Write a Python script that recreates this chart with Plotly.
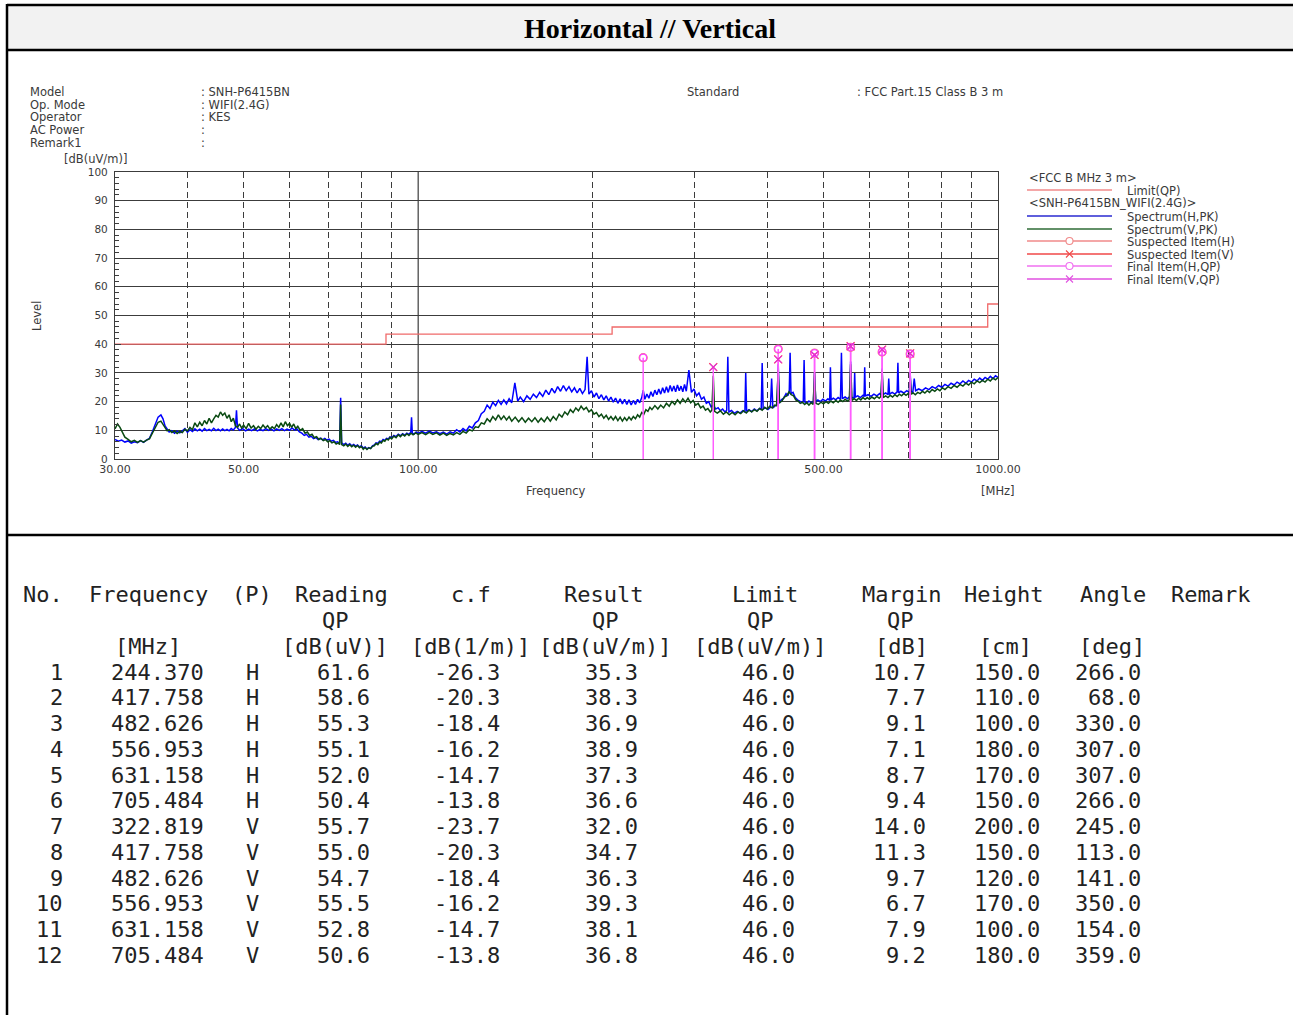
import plotly.graph_objects as go

W, H = 1293, 1015

# ---------------- data ----------------
limit_freq = [30, 88, 216, 960, 1000]
limit_level = [40, 43.5, 46, 54, 54]

# horizontal-polarisation peak spectrum (MHz, dBuV/m)
h_spectrum = [
    (30.0, 6.8), (30.4, 6.2), (30.8, 6.6), (31.2, 5.9), (31.6, 6.3), (32.0, 5.5), (32.4, 6.0), (32.8, 5.7),
    (33.2, 6.4), (33.6, 5.8), (34.0, 6.6), (34.4, 7.2), (34.8, 9.5), (35.2, 12.0), (35.6, 14.6), (36.0, 15.4),
    (36.3, 14.0), (36.6, 11.5), (36.9, 10.2), (37.2, 9.4), (37.6, 9.9), (38.0, 9.0), (38.4, 9.7), (38.8, 9.1),
    (39.2, 9.8), (39.6, 10.6), (40.0, 9.3), (40.4, 10.2), (40.8, 9.6), (41.2, 10.5), (41.6, 9.8), (42.0, 10.4),
    (42.4, 9.7), (42.8, 10.6), (43.2, 9.9), (43.6, 10.3), (44.0, 9.8), (44.4, 10.7), (44.8, 9.9), (45.2, 10.4),
    (45.6, 9.8), (46.0, 10.5), (46.4, 9.9), (46.8, 10.3), (47.2, 9.8), (47.6, 10.6), (48.0, 10.1), (48.4, 11.0),
    (48.6, 17.0), (48.8, 10.8), (49.2, 10.0), (49.8, 10.6), (50.4, 9.8), (51.0, 10.4), (51.6, 9.9), (52.2, 10.5),
    (52.8, 9.8), (53.4, 10.3), (54.0, 9.9), (54.6, 10.6), (55.2, 10.0), (55.8, 10.4), (56.4, 9.8), (57.0, 10.5),
    (57.6, 10.0), (58.2, 10.6), (58.8, 9.9), (59.4, 10.4), (60.0, 10.0), (60.6, 10.8), (61.2, 10.1), (61.8, 10.5),
    (62.4, 9.4), (63.0, 9.0), (63.6, 8.2), (64.2, 8.6), (64.8, 7.6), (65.4, 7.9), (66.0, 7.1), (66.6, 7.5),
    (67.2, 6.8), (67.8, 7.3), (68.4, 6.7), (69.0, 7.2), (69.6, 6.6), (70.2, 6.9), (70.8, 6.2), (71.4, 6.5),
    (72.0, 5.8), (72.6, 6.0), (73.2, 5.4), (73.5, 21.3), (73.8, 5.6), (74.4, 5.0), (75.0, 5.5), (75.6, 4.8),
    (76.2, 5.3), (76.8, 4.6), (77.4, 5.1), (78.0, 4.5), (78.6, 4.9), (79.2, 4.2), (79.8, 4.6), (80.4, 3.8),
    (81.0, 4.2), (81.6, 3.5), (82.2, 4.0), (82.8, 3.7), (83.4, 4.6), (84.0, 4.9), (84.6, 5.6), (85.2, 5.4),
    (85.8, 6.2), (86.4, 6.0), (87.0, 6.8), (87.6, 6.5), (88.2, 7.2), (88.8, 7.0), (89.4, 7.7), (90.0, 7.4),
    (90.8, 8.2), (91.6, 7.8), (92.4, 8.6), (93.2, 8.1), (94.0, 8.8), (94.8, 8.3), (95.6, 9.0), (96.4, 8.6),
    (97.1, 9.3), (97.4, 14.5), (97.7, 9.0), (98.4, 8.7), (99.2, 9.4), (100, 8.9), (101.5, 9.6), (103, 9.0),
    (104.5, 9.7), (106, 9.1), (107.5, 9.5), (109, 8.8), (110.5, 9.4), (112, 8.7), (113.5, 9.5), (115, 9.0),
    (116.5, 10.2), (118, 9.4), (119.5, 10.6), (121, 9.8), (122.5, 11.4), (124, 10.8), (125.5, 12.6), (127, 13.4),
    (128.5, 15.8), (130, 16.6), (131.5, 18.8), (133, 17.6), (134.5, 19.8), (136, 18.6), (137.5, 20.4), (139, 19.0),
    (140.5, 20.6), (142, 19.2), (143.5, 21.0), (145, 19.6), (146.8, 26.5), (148.5, 20.2), (150, 21.6), (152, 20.0),
    (154, 22.0), (156, 20.8), (158, 22.6), (160, 21.4), (162, 23.2), (164, 21.8), (166, 24.0), (168, 22.4),
    (170, 24.6), (172, 23.0), (174, 25.2), (176, 23.6), (178, 25.6), (180, 23.8), (182, 25.2), (184, 23.4),
    (186, 24.8), (188, 23.0), (190, 24.6), (192, 22.8), (194, 24.2), (195.6, 35.6), (197, 22.6), (199, 23.8),
    (201, 21.6), (203, 23.0), (205, 21.0), (207, 22.4), (209, 20.6), (211, 22.0), (213, 20.2), (215, 21.6),
    (217, 19.8), (219, 21.2), (221, 19.4), (223, 21.0), (225, 19.2), (227, 20.8), (229, 19.0), (231, 20.6),
    (233, 18.8), (235, 20.4), (237, 19.0), (239, 20.8), (241, 19.6), (243, 21.4), (244.4, 24.0), (246, 20.8),
    (248, 22.6), (250, 21.2), (252, 23.4), (254, 21.8), (256, 24.0), (258, 22.4), (260, 24.4), (262, 22.6),
    (264, 24.8), (266, 23.0), (268, 25.2), (270, 23.2), (272, 25.6), (274, 23.6), (276, 25.4), (278, 23.4),
    (280, 25.8), (282, 23.8), (284, 25.4), (286, 23.4), (288, 26.0), (290, 23.6), (293, 31.0), (296, 23.2),
    (299, 24.4), (302, 22.0), (305, 23.0), (308, 20.8), (311, 21.6), (314, 19.4), (317, 20.0), (320, 18.2),
    (323, 18.8), (326, 17.4), (329, 17.9), (332, 16.8), (335, 17.4), (338, 16.4), (340.5, 17.0), (342, 35.6),
    (343.5, 16.4), (347, 16.9), (351, 15.9), (355, 16.6), (359, 16.0), (363, 16.8), (366, 16.3), (367.2, 30.0),
    (368.5, 16.6), (372, 17.2), (376, 16.5), (380, 17.4), (384, 16.8), (388, 17.6), (390.5, 17.2), (392, 33.4),
    (393.5, 17.4), (397, 17.8), (401, 17.2), (405, 18.0), (407, 28.0), (409, 17.8), (413, 18.6), (416, 18.8),
    (417.8, 33.0), (419.5, 19.4), (423, 20.6), (427, 21.2), (431, 22.8), (434, 22.0), (436.5, 23.4), (438, 37.0),
    (439.5, 22.8), (443, 23.2), (447, 21.4), (451, 20.6), (455, 20.2), (459, 19.6), (461.5, 20.2), (463, 34.5),
    (464.5, 19.8), (468, 19.4), (472, 20.2), (476, 19.6), (480.5, 20.0), (482.6, 30.0), (485, 19.8), (489, 20.6),
    (494, 20.0), (499, 20.8), (504, 20.2), (509, 21.0), (512.5, 20.4), (514, 32.0), (515.5, 20.6), (520, 21.2),
    (525, 20.6), (530, 21.4), (535, 20.8), (537, 37.0), (539, 21.0), (545, 21.6), (550, 21.0), (555, 21.8),
    (557, 34.0), (559, 21.2), (562, 21.4), (564.5, 21.2), (566, 30.0), (567.5, 21.6), (573, 22.0), (579, 21.4),
    (585, 22.2), (587.5, 21.8), (589, 32.0), (590.5, 22.0), (597, 22.4), (604, 21.8), (611, 22.6), (618, 22.0),
    (625, 22.8), (629, 22.2), (631.2, 31.5), (633, 22.4), (640, 23.0), (646, 22.4), (648, 28.0), (650, 22.6),
    (657, 23.2), (664, 22.6), (670, 23.4), (672, 33.5), (674, 23.0), (680, 23.6), (688, 23.0), (696, 23.8),
    (703, 23.2), (705.5, 30.0), (708, 23.6), (713, 23.2), (717, 28.0), (721, 23.8), (730, 24.4), (740, 23.8),
    (750, 24.8), (760, 24.2), (770, 25.2), (780, 24.6), (790, 25.6), (800, 25.0), (810, 26.0), (820, 25.4),
    (830, 26.4), (840, 25.8), (850, 26.8), (860, 26.2), (870, 27.2), (880, 26.4), (890, 27.4), (900, 26.8),
    (910, 27.8), (920, 27.2), (930, 28.2), (940, 27.4), (950, 28.4), (960, 27.8), (970, 28.8), (980, 28.0),
    (990, 29.0), (1000, 28.4),
]

# vertical-polarisation peak spectrum (MHz, dBuV/m)
v_spectrum = [
    (30.0, 10.5), (30.3, 12.2), (30.6, 11.0), (30.9, 9.2), (31.2, 7.6), (31.6, 6.8), (32.0, 6.0), (32.4, 6.5),
    (32.8, 5.8), (33.2, 6.4), (33.6, 5.9), (34.0, 6.6), (34.4, 7.0), (34.8, 9.0), (35.2, 11.0), (35.6, 12.8),
    (36.0, 13.2), (36.3, 12.0), (36.6, 10.8), (36.9, 9.8), (37.2, 10.2), (37.6, 9.2), (38.0, 9.8), (38.4, 8.9),
    (38.8, 9.6), (39.2, 9.2), (39.6, 10.4), (40.0, 9.8), (40.4, 11.0), (40.8, 10.2), (41.2, 12.6), (41.6, 11.2),
    (42.0, 12.8), (42.4, 11.6), (42.8, 13.4), (43.2, 12.2), (43.6, 14.2), (44.0, 12.6), (44.4, 14.0), (44.8, 15.2),
    (45.2, 14.6), (45.6, 16.4), (46.0, 15.2), (46.4, 16.0), (46.8, 14.2), (47.2, 15.4), (47.6, 13.0), (48.0, 14.2),
    (48.4, 11.6), (48.8, 11.0), (49.2, 12.2), (49.6, 10.8), (50.0, 11.8), (50.5, 10.6), (51.0, 12.4), (51.5, 10.8),
    (52.0, 11.6), (52.5, 10.4), (53.0, 11.4), (53.5, 10.6), (54.0, 11.8), (54.5, 10.8), (55.0, 11.6), (55.5, 10.4),
    (56.0, 11.2), (56.5, 10.6), (57.0, 12.0), (57.5, 11.0), (58.0, 12.6), (58.5, 11.2), (59.0, 13.0), (59.5, 11.6),
    (60.0, 12.4), (60.5, 11.0), (61.0, 12.2), (61.5, 10.6), (62.0, 11.4), (62.6, 10.0), (63.2, 10.6), (63.8, 9.0),
    (64.4, 9.4), (65.0, 8.2), (65.6, 8.6), (66.2, 7.4), (66.8, 7.8), (67.4, 6.8), (68.0, 7.2), (68.6, 6.4),
    (69.2, 6.8), (69.8, 6.0), (70.4, 6.4), (71.0, 5.6), (71.6, 6.0), (72.2, 5.2), (72.8, 5.6), (73.2, 5.0),
    (73.5, 19.0), (73.8, 5.0), (74.4, 4.6), (75.0, 5.2), (75.6, 4.4), (76.2, 5.0), (76.8, 4.3), (77.4, 4.8),
    (78.0, 4.1), (78.6, 4.7), (79.2, 3.9), (79.8, 4.4), (80.4, 3.4), (81.0, 4.0), (81.6, 3.3), (82.2, 3.9),
    (82.8, 3.6), (83.4, 4.4), (84.0, 4.6), (84.6, 5.4), (85.2, 5.0), (85.8, 5.9), (86.4, 5.6), (87.0, 6.5),
    (87.6, 6.2), (88.2, 7.0), (88.8, 6.6), (89.4, 7.5), (90.0, 7.0), (90.8, 8.0), (91.6, 7.4), (92.4, 8.4),
    (93.2, 7.8), (94.0, 8.6), (94.8, 8.0), (95.6, 8.8), (96.4, 8.2), (97.2, 9.0), (98.0, 8.4), (99.0, 9.1),
    (100, 8.6), (101.5, 9.2), (103, 8.5), (104.5, 9.3), (106, 8.6), (107.5, 9.1), (109, 8.3), (110.5, 9.0),
    (112, 8.2), (113.5, 8.9), (115, 8.4), (116.5, 9.2), (118, 8.6), (119.5, 9.6), (121, 9.0), (122.5, 10.2),
    (124, 9.8), (125.5, 11.2), (127, 11.0), (128.5, 12.6), (130, 12.2), (131.5, 14.0), (133, 13.0), (134.5, 14.8),
    (136, 13.6), (137.5, 15.4), (139, 13.8), (140.5, 15.0), (142, 13.6), (143.5, 14.8), (145, 13.2), (147, 14.6),
    (149, 13.0), (151, 14.4), (153, 12.8), (155, 14.2), (157, 13.0), (159, 14.4), (161, 12.8), (163, 14.2),
    (165, 13.0), (167, 14.6), (169, 13.2), (171, 14.8), (173, 13.6), (175, 15.6), (177, 14.6), (179, 16.4),
    (181, 15.4), (183, 17.2), (185, 16.2), (187, 17.8), (189, 16.8), (191, 18.4), (193, 17.2), (195, 18.0),
    (197, 16.4), (199, 17.2), (201, 15.6), (203, 16.2), (205, 14.8), (207, 15.6), (209, 14.2), (211, 15.2),
    (213, 13.8), (215, 14.8), (217, 13.6), (219, 14.8), (221, 13.4), (223, 14.6), (225, 13.2), (227, 14.4),
    (229, 13.4), (231, 14.6), (233, 13.6), (235, 14.8), (237, 14.0), (239, 15.4), (241, 14.6), (243, 16.2),
    (245, 15.6), (247, 17.2), (249, 16.6), (251, 18.0), (253, 17.2), (256, 18.6), (259, 17.4), (262, 18.8),
    (265, 17.8), (268, 19.4), (271, 18.4), (274, 20.0), (277, 19.0), (280, 20.6), (283, 19.4), (286, 21.0),
    (289, 19.8), (292, 21.2), (295, 19.6), (298, 20.4), (301, 18.8), (304, 19.4), (307, 17.8), (310, 18.4),
    (313, 17.0), (316, 17.6), (319, 16.4), (321, 17.0), (322.8, 29.0), (324.5, 16.6), (328, 16.0), (332, 16.8),
    (336, 15.6), (340, 16.4), (344, 15.4), (348, 16.2), (352, 15.4), (356, 16.4), (360, 15.8), (364, 16.8),
    (368, 16.0), (372, 17.0), (376, 16.4), (380, 17.2), (384, 16.6), (388, 17.6), (392, 17.0), (396, 18.0),
    (400, 17.4), (404, 18.4), (408, 17.8), (412, 18.8), (415, 18.6), (417.8, 31.0), (420, 19.6), (424, 20.2),
    (428, 21.6), (432, 22.0), (436, 23.4), (440, 22.4), (444, 22.0), (448, 20.6), (452, 20.2), (456, 19.4),
    (460, 19.8), (464, 19.0), (468, 19.6), (472, 18.8), (476, 19.6), (480, 19.0), (482.6, 30.0), (485, 19.4),
    (490, 19.0), (495, 19.8), (500, 19.2), (505, 20.0), (510, 19.4), (515, 20.2), (520, 19.6), (525, 20.4),
    (530, 19.8), (535, 20.6), (540, 20.0), (545, 20.8), (550, 20.2), (554, 20.6), (557, 33.0), (560, 20.4),
    (565, 21.0), (570, 20.4), (575, 21.2), (580, 20.6), (585, 21.4), (590, 20.8), (595, 21.4), (600, 20.8),
    (606, 21.6), (612, 21.0), (618, 21.8), (624, 21.2), (628, 21.8), (631.2, 31.0), (634, 21.4), (640, 22.0),
    (646, 21.4), (652, 22.2), (658, 21.6), (664, 22.4), (670, 21.8), (676, 22.6), (682, 22.0), (688, 22.8),
    (694, 22.2), (700, 22.8), (703, 22.4), (705.5, 29.0), (708, 22.6), (714, 23.0), (720, 22.4), (727, 23.2),
    (734, 22.8), (741, 23.6), (748, 23.0), (755, 23.8), (762, 23.2), (770, 24.2), (778, 23.6), (786, 24.4),
    (794, 23.8), (802, 24.8), (810, 24.2), (820, 25.2), (830, 24.6), (840, 25.6), (850, 25.0), (860, 26.0),
    (870, 25.4), (880, 26.4), (890, 25.8), (900, 26.8), (910, 26.2), (920, 27.2), (930, 26.6), (940, 27.4),
    (950, 26.8), (960, 27.8), (970, 27.2), (980, 28.2), (990, 27.6), (1000, 28.4),
]
h_freq = [p[0] for p in h_spectrum]
h_level = [p[1] for p in h_spectrum]
v_freq = [p[0] for p in v_spectrum]
v_level = [p[1] for p in v_spectrum]

final_h_freq = [244.370, 417.758, 482.626, 556.953, 631.158, 705.484]
final_h_level = [35.3, 38.3, 36.9, 38.9, 37.3, 36.6]
final_v_freq = [322.819, 417.758, 482.626, 556.953, 631.158, 705.484]
final_v_level = [32.0, 34.7, 36.3, 39.3, 38.1, 36.8]

x_tick_vals = [30, 50, 100, 500, 1000]
x_tick_text = ["30.00", "50.00", "100.00", "500.00", "1000.00"]
x_dashed_grid = [40, 50, 60, 70, 80, 90, 200, 300, 400, 500, 600, 700, 800, 900]
x_solid_grid = [100]

# table
t_no = [1, 2, 3, 4, 5, 6, 7, 8, 9, 10, 11, 12]
t_freq = ["244.370", "417.758", "482.626", "556.953", "631.158", "705.484",
          "322.819", "417.758", "482.626", "556.953", "631.158", "705.484"]
t_pol = ["H", "H", "H", "H", "H", "H", "V", "V", "V", "V", "V", "V"]
t_reading = ["61.6", "58.6", "55.3", "55.1", "52.0", "50.4", "55.7", "55.0", "54.7", "55.5", "52.8", "50.6"]
t_cf = ["-26.3", "-20.3", "-18.4", "-16.2", "-14.7", "-13.8", "-23.7", "-20.3", "-18.4", "-16.2", "-14.7", "-13.8"]
t_result = ["35.3", "38.3", "36.9", "38.9", "37.3", "36.6", "32.0", "34.7", "36.3", "39.3", "38.1", "36.8"]
t_limit = ["46.0"] * 12
t_margin = ["10.7", "7.7", "9.1", "7.1", "8.7", "9.4", "14.0", "11.3", "9.7", "6.7", "7.9", "9.2"]
t_height = ["150.0", "110.0", "100.0", "180.0", "170.0", "150.0", "200.0", "150.0", "120.0", "170.0", "100.0", "180.0"]
t_angle = ["266.0", "68.0", "330.0", "307.0", "307.0", "266.0", "245.0", "113.0", "141.0", "350.0", "154.0", "359.0"]


# ---------------- helpers ----------------
def px(x):
    return x / W


def py(y):
    return 1 - y / H


CH_FONT = "DejaVu Sans, Verdana, sans-serif"
TB_FONT = "DejaVu Sans Mono, Liberation Mono, monospace"
GRID = "#3c3c3c"
TXT = "#3a3a3a"

fig = go.Figure()

# spectra
fig.add_trace(go.Scatter(x=h_freq, y=h_level, mode="lines", line=dict(color="#0000ff", width=1.5),
                         name="Spectrum(H,PK)"))
fig.add_trace(go.Scatter(x=v_freq, y=v_level, mode="lines", line=dict(color="#0a4a12", width=1.5),
                         name="Spectrum(V,PK)"))
# limit
fig.add_trace(go.Scatter(x=limit_freq, y=limit_level, mode="lines",
                         line=dict(color="#f06a6a", width=1.3, shape="hv"), name="Limit(QP)"))

# final item stems
for fr, lv in [(final_h_freq, final_h_level), (final_v_freq, final_v_level)]:
    sx, sy = [], []
    for f, v in zip(fr, lv):
        sx += [f, f, None]
        sy += [0, v, None]
    fig.add_trace(go.Scatter(x=sx, y=sy, mode="lines", line=dict(color="#ff5cff", width=1.5), hoverinfo="skip"))

# suspected + final markers
fig.add_trace(go.Scatter(x=final_h_freq, y=final_h_level, mode="markers", name="Suspected Item(H)",
                         marker=dict(symbol="circle-open", size=8, color="#f07a7a", line=dict(width=1.2))))
fig.add_trace(go.Scatter(x=final_v_freq, y=final_v_level, mode="markers", name="Suspected Item(V)",
                         marker=dict(symbol="x-thin-open", size=8, color="#ff3a3a", line=dict(width=1.2))))
fig.add_trace(go.Scatter(x=final_h_freq, y=final_h_level, mode="markers", name="Final Item(H,QP)",
                         marker=dict(symbol="circle-open", size=7, color="#ff44ff", line=dict(width=1.2))))
fig.add_trace(go.Scatter(x=final_v_freq, y=final_v_level, mode="markers", name="Final Item(V,QP)",
                         marker=dict(symbol="x-thin-open", size=7, color="#e030e0", line=dict(width=1.2))))

fig.update_layout(
    width=W, height=H, margin=dict(l=0, r=0, t=0, b=0, pad=0, autoexpand=False), autosize=False,
    paper_bgcolor="white", plot_bgcolor="white", showlegend=False,
    xaxis=dict(type="log", domain=[px(115), px(998)], range=[1.4771213, 3], automargin=False,
               tickmode="array", tickvals=x_tick_vals, ticktext=x_tick_text, showgrid=False,
               ticks="", showline=True, mirror=True, linecolor=GRID, linewidth=1.2, zeroline=False,
               tickfont=dict(family=CH_FONT, size=11, color=TXT),
               minor=dict(tickmode="array", tickvals=x_dashed_grid, showgrid=True, gridcolor=GRID,
                          gridwidth=1, griddash="6px,4px", ticks="")),
    yaxis=dict(domain=[py(459), py(172)], range=[0, 100], tickmode="linear", tick0=0, dtick=10, automargin=False,
               showgrid=True, gridcolor=GRID, gridwidth=1.2, ticks="inside", ticklen=6, tickcolor=GRID,
               showline=True, mirror=True, linecolor=GRID, linewidth=1.2, zeroline=False,
               ticklabelstandoff=4,
               tickfont=dict(family=CH_FONT, size=10.5, color=TXT),
               minor=dict(dtick=2, ticks="inside", ticklen=4, tickcolor=GRID, showgrid=False)),
)

shapes = []
# solid vertical grid at 100 MHz
for f in x_solid_grid:
    shapes.append(dict(type="line", xref="x", yref="y", x0=f, x1=f, y0=0, y1=100,
                       line=dict(color=GRID, width=1.2), layer="below"))

# page frame
shapes.append(dict(type="rect", xref="paper", yref="paper", x0=px(7), x1=px(1295), y0=py(50), y1=py(5),
                   fillcolor="#f2f2f2", line=dict(width=0), layer="below"))
for y in [5, 50, 535]:
    shapes.append(dict(type="line", xref="paper", yref="paper", x0=px(7), x1=px(1295), y0=py(y), y1=py(y),
                       line=dict(color="black", width=2.5)))
shapes.append(dict(type="line", xref="paper", yref="paper", x0=px(7), x1=px(7), y0=py(4), y1=py(1016),
                   line=dict(color="black", width=2.5)))

annotations = []


def txt(x, y, s, size=12, anchor="left", color=TXT, family=CH_FONT, angle=0):
    annotations.append(dict(x=px(x), y=py(y), xref="paper", yref="paper", text=s, showarrow=False,
                            xanchor=anchor, yanchor="middle", textangle=angle,
                            font=dict(family=family, size=size, color=color)))


# title
txt(650, 28, "<b>Horizontal // Vertical</b>", size=28, anchor="center", color="black",
    family="Liberation Serif, Times New Roman, serif")

# info block
info_labels = ["Model", "Op. Mode", "Operator", "AC Power", "Remark1"]
info_values = [": SNH-P6415BN", ": WIFI(2.4G)", ": KES", ":", ":"]
for i, (a, b) in enumerate(zip(info_labels, info_values)):
    yy = 92 + i * 12.7
    txt(28, yy, a, size=11.5)
    txt(199, yy, b, size=11.5)
txt(685, 92, "Standard", size=11.5)
txt(855, 92, ": FCC Part.15 Class B 3 m", size=11.5)

txt(62, 159, "[dB(uV/m)]", size=11.5)
txt(37, 316, "Level", angle=-90, anchor="center", size=11.5)
txt(556, 491, "Frequency", anchor="center", size=11.5)
txt(998, 491, "[MHz]", anchor="center", size=11.5)

# legend (drawn manually)
txt(1027, 178, "&lt;FCC B MHz 3 m&gt;", size=11.5)
txt(1027, 203, "&lt;SNH-P6415BN_WIFI(2.4G)&gt;", size=11.5)
legend_rows = [
    (190, "Limit(QP)", "#f08a8a", None),
    (216, "Spectrum(H,PK)", "#2a2ad0", None),
    (229, "Spectrum(V,PK)", "#2e6b36", None),
    (241, "Suspected Item(H)", "#f08a8a", "o"),
    (254, "Suspected Item(V)", "#f04848", "x"),
    (266, "Final Item(H,QP)", "#f070f0", "o"),
    (279, "Final Item(V,QP)", "#e050e0", "x"),
]
for yy, label, col, sym in legend_rows:
    shapes.append(dict(type="line", xref="paper", yref="paper", x0=px(1027), x1=px(1112), y0=py(yy), y1=py(yy),
                       line=dict(color=col, width=1.3)))
    if sym == "o":
        shapes.append(dict(type="circle", xref="paper", yref="paper", x0=px(1066), x1=px(1073),
                           y0=py(yy + 3.5), y1=py(yy - 3.5), line=dict(color=col, width=1.1), fillcolor="white"))
    elif sym == "x":
        shapes.append(dict(type="line", xref="paper", yref="paper", x0=px(1066), x1=px(1073),
                           y0=py(yy + 3.5), y1=py(yy - 3.5), line=dict(color=col, width=1.1)))
        shapes.append(dict(type="line", xref="paper", yref="paper", x0=px(1066), x1=px(1073),
                           y0=py(yy - 3.5), y1=py(yy + 3.5), line=dict(color=col, width=1.1)))
    txt(1125, yy + 1, label, size=11.5)

# table
TS = 22
TC = "#222"
header_rows = [
    (594, [(43, "No."), (148, "Frequency"), (252, "(P)"), (341, "Reading"), (471, "c.f"), (603, "Result"),
           (765, "Limit"), (901, "Margin"), (1003, "Height"), (1113, "Angle"), (1210, "Remark")]),
    (620, [(335, "QP"), (605, "QP"), (760, "QP"), (900, "QP")]),
    (646, [(148, "[MHz]"), (335, "[dB(uV)]"), (470, "[dB(1/m)]"), (605, "[dB(uV/m)]"), (760, "[dB(uV/m)]"),
           (901, "[dB]"), (1005, "[cm]"), (1112, "[deg]")]),
]
for yy, cells in header_rows:
    for x, s in cells:
        txt(x, yy, s, size=TS, anchor="center", color=TC, family=TB_FONT)

cols = [(65, "right", t_no), (206, "right", t_freq), (252, "center", t_pol), (372, "right", t_reading),
        (502, "right", t_cf), (640, "right", t_result), (797, "right", t_limit), (928, "right", t_margin),
        (1042, "right", t_height), (1143, "right", t_angle)]
for i in range(len(t_no)):
    yy = 672 + i * 25.75
    for x, anc, vals in cols:
        txt(x, yy, str(vals[i]), size=TS, anchor=anc, color=TC, family=TB_FONT)

fig.update_layout(shapes=shapes, annotations=annotations)

fig.write_html("out.html", config={"displayModeBar": False},
               post_script="document.body.style.margin='0';document.body.style.overflow='hidden';")
